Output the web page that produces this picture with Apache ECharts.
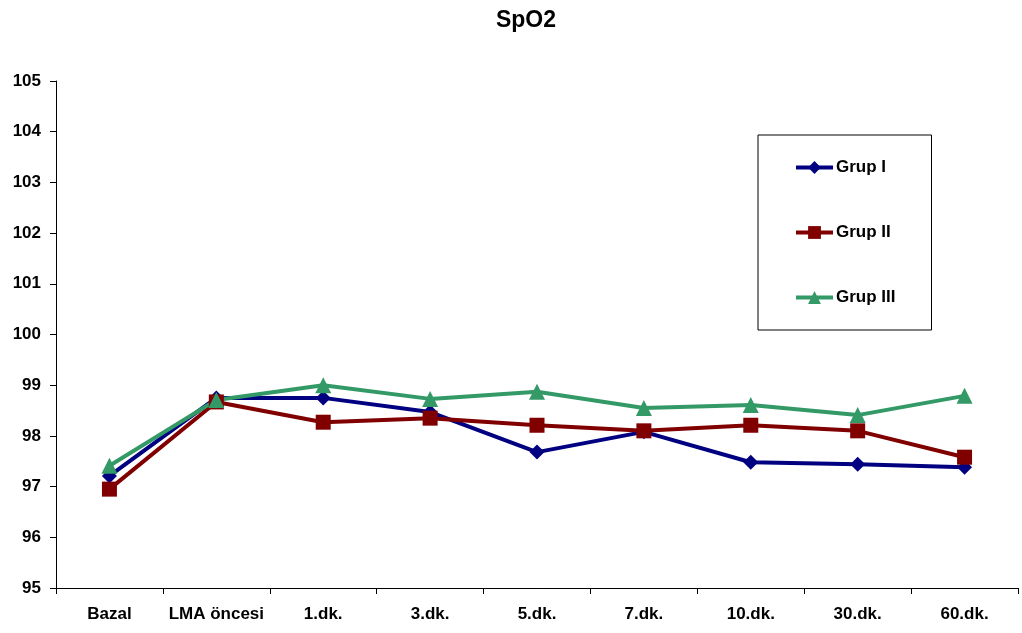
<!DOCTYPE html>
<html>
<head>
<meta charset="utf-8">
<script src="https://cdn.jsdelivr.net/npm/echarts@6/dist/echarts.min.js"></script>
<style>html,body{margin:0;padding:0;background:#fff}#c{width:1022px;height:633px}</style>
</head>
<body>
<div id="c"></div>
<script>
const categories = ['Bazal', 'LMA öncesi', '1.dk.', '3.dk.', '5.dk.', '7.dk.', '10.dk.', '30.dk.', '60.dk.'];
const grupI   = [97.21, 98.75, 98.75, 98.47, 97.68, 98.08, 97.48, 97.44, 97.38];
const grupII  = [96.95, 98.67, 98.27, 98.35, 98.21, 98.10, 98.21, 98.10, 97.58];
const grupIII = [97.41, 98.71, 99.00, 98.73, 98.87, 98.55, 98.61, 98.41, 98.79];
const seriesNames = ['Grup I', 'Grup II', 'Grup III'];

const font = 'Liberation Sans, Arial, sans-serif';
const chart = echarts.init(document.getElementById('c'));
function mk(name, data, color, symbol, size) {
  return {
    name, type: 'line', data, symbol, symbolSize: size,
    lineStyle: { color, width: 4 },
    itemStyle: { color },
    emphasis: { disabled: true },
    animation: false
  };
}
chart.setOption({
  animation: false,
  title: {
    text: 'SpO2', left: 521, textAlign: 'center', top: 4,
    textStyle: { fontFamily: font, fontWeight: 'bold', fontSize: 23, color: '#000' }
  },
  grid: { left: 56, right: 4, top: 81, bottom: 45, containLabel: false },
  legend: {
    orient: 'vertical', left: 758, top: 135,
    padding: [24, 36, 24, 36],
    itemGap: 48, itemWidth: 37, itemHeight: 16,
    borderColor: '#000', borderWidth: 1,
    lineStyle: { width: 4 },
    textStyle: { fontFamily: font, fontWeight: 'bold', fontSize: 17, color: '#000', padding: [0, 0, 0, -2] },
    data: seriesNames
  },
  xAxis: {
    type: 'category', data: categories, boundaryGap: true,
    axisLine: { lineStyle: { color: '#000', width: 1 } },
    axisTick: { show: true, length: 6, inside: false, interval: 0, lineStyle: { color: '#000' } },
    axisLabel: { interval: 0, fontFamily: font, fontWeight: 'bold', fontSize: 17, color: '#000', margin: 18 }
  },
  yAxis: {
    type: 'value', min: 95, max: 105, interval: 1,
    splitLine: { show: false },
    axisLine: { show: true, lineStyle: { color: '#000', width: 1 } },
    axisTick: { show: true, length: 6, lineStyle: { color: '#000' } },
    axisLabel: { fontFamily: font, fontWeight: 'bold', fontSize: 17, color: '#000', margin: 15 }
  },
  series: [
    mk(seriesNames[0], grupI, '#000080', 'diamond', 15),
    mk(seriesNames[1], grupII, '#800000', 'rect', 15),
    mk(seriesNames[2], grupIII, '#339966', 'triangle', 16)
  ]
});
</script>
</body>
</html>
